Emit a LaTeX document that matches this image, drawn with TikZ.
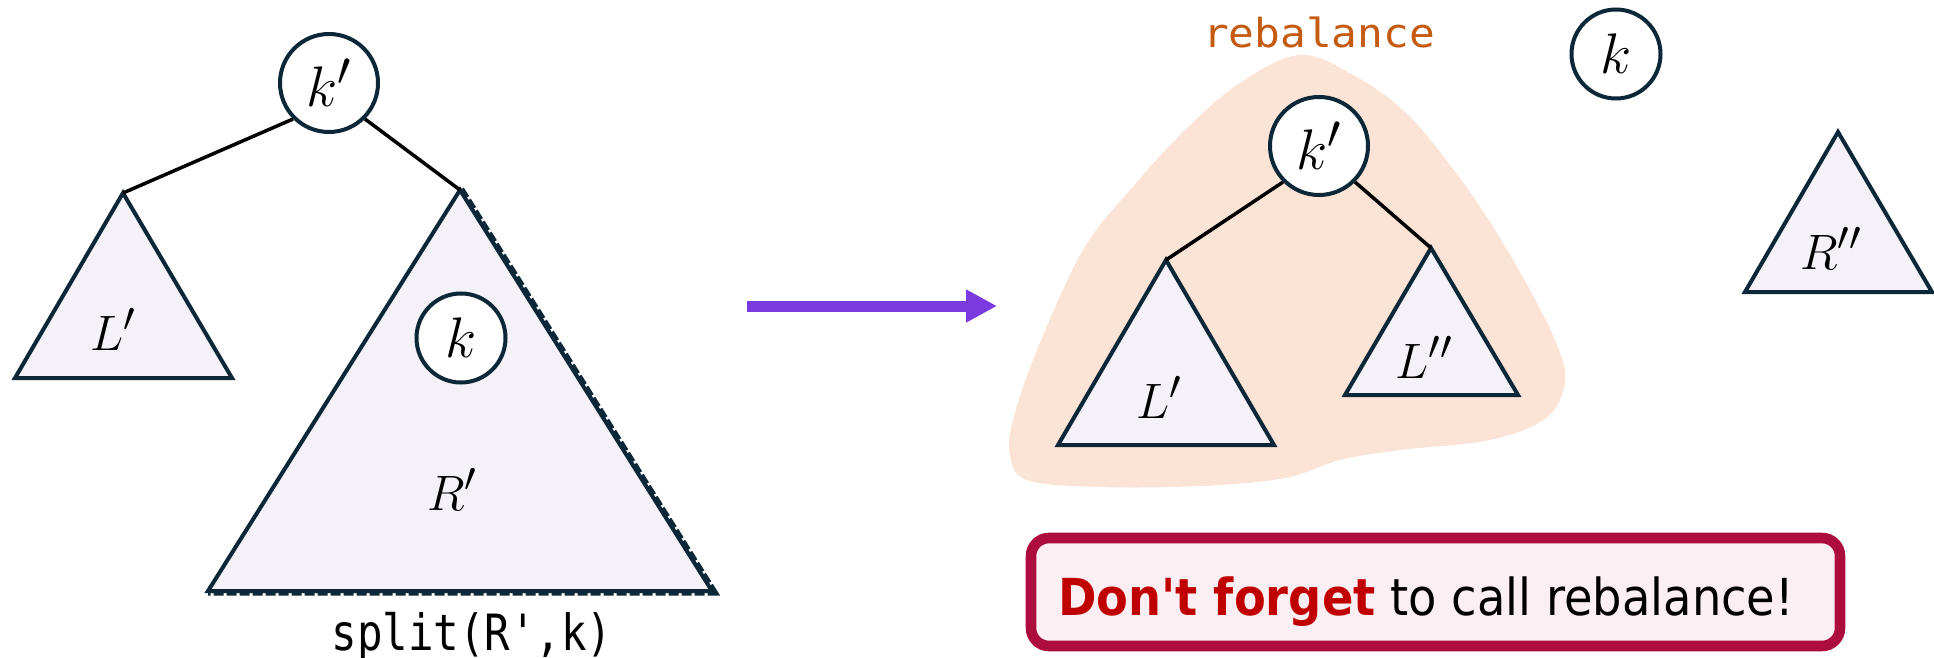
\documentclass[tikz,border=0pt]{standalone}
\usepackage{fontspec}
\usepackage{graphicx}
\usetikzlibrary{arrows.meta}
\newfontfamily\monofont{DejaVu Sans Mono}
\newfontfamily\msgfont{DejaVu Sans}
\newcommand\lblsz{\fontsize{24.88}{30}\selectfont}
\newcommand\keylab[1]{\scalebox{1.15}{$#1$}}
\definecolor{outl}{RGB}{12,40,56}
\definecolor{trifill}{RGB}{244,241,249}
\definecolor{blobfill}{RGB}{251,227,214}
\definecolor{arrowc}{RGB}{123,58,224}
\definecolor{rebc}{RGB}{197,90,17}
\definecolor{msgborder}{RGB}{172,12,62}
\definecolor{msgfill}{RGB}{251,239,243}
\definecolor{msgred}{RGB}{192,0,0}
\begin{document}
\begin{tikzpicture}[x=0.5pt,y=-0.5pt,
  keynode/.style={circle,draw=outl,line width=2pt,fill=white,minimum size=49pt,inner sep=0pt,font=\lblsz},
  bigkey/.style={keynode,minimum size=49pt},
  smallkey/.style={keynode,minimum size=44.5pt},
  tri/.style={draw=outl,fill=trifill,line width=2pt,line join=miter},
  treeedge/.style={draw=black,line width=1.75pt},
  lbl/.style={anchor=base,inner sep=0pt,font=\lblsz},
  dashmark/.style={draw=outl,line width=4.5pt,dash pattern=on 5pt off 1.5pt}]
\useasboundingbox (0,0) rectangle (1934,658);

% ---------- left picture ----------
\coordinate (Lt) at (123,193);
\coordinate (Rt) at (460,190);
\coordinate (Rbr) at (712,591);
\coordinate (Rbl) at (208,591);
\draw[dashmark] (Rt) -- (Rbr) -- (Rbl);
\draw[tri] (Lt) -- (232,378) -- (15,378) -- cycle;
\draw[tri] (Rt) -- (Rbr) -- (Rbl) -- cycle;
\node[bigkey] (kroot) at (329,83) {\keylab{k'}};
\node[smallkey] (kin) at (461,338) {\keylab{k}};
\node[lbl] (Llbl) at (113,350) {$L'$};
\node[lbl] (Rlbl) at (452,510) {$R'$};
\draw[treeedge] (kroot.225) -- (Lt);
\draw[treeedge] (kroot.-45) -- (Rt);
\node[anchor=base,inner sep=0pt] (splitlbl) at (472,650)
  {\resizebox{140.5pt}{\height}{\monofont\fontsize{25}{30}\selectfont split(R\textquotesingle,k)}};

% ---------- arrow ----------
\coordinate (a1) at (747,306);
\coordinate (a2) at (997,306);
\draw[arrowc,line width=5.5pt,-{Triangle[length=15.5pt,width=15.5pt]}] (a1) -- (a2);

% ---------- right picture ----------
\fill[blobfill] plot[smooth cycle,tension=0.6] coordinates {
 (1300,55) (1355,76) (1405,112) (1450,165) (1490,222) (1530,290) (1557,345)
 (1565,382) (1546,418) (1490,440) (1400,450) (1340,460) (1285,478) (1200,486)
 (1100,487) (1027,480) (1010,455) (1013,420) (1037,350) (1083,250) (1130,190)
 (1185,130) (1240,83)};
\node[anchor=base,inner sep=0pt,text=rebc] (reblbl) at (1319,48)
  {\resizebox{116pt}{\height}{\monofont\fontsize{20}{24}\selectfont rebalance}};
\coordinate (L2t) at (1166,260);
\coordinate (L3t) at (1431,248);
\draw[tri] (L2t) -- (1274,445) -- (1058,445) -- cycle;
\draw[tri] (L3t) -- (1518,395) -- (1345,395) -- cycle;
\node[bigkey] (kright) at (1319,146) {\keylab{k'}};
\node[lbl] (L2lbl) at (1159,418) {$L'$};
\node[lbl] (L3lbl) at (1424,378) {$L''$};
\draw[treeedge] (kright.225) -- (L2t);
\draw[treeedge] (kright.-45) -- (L3t);

\node[smallkey] (ktop) at (1616,54) {\keylab{k}};
\coordinate (R2t) at (1838,132);
\draw[tri] (R2t) -- (1932,292) -- (1745,292) -- cycle;
\node[lbl] (R2lbl) at (1831,269) {$R''$};

% ---------- message ----------
\node[draw=msgborder,fill=msgfill,line width=5.3pt,rounded corners=9pt,
      minimum width=404.5pt,minimum height=54pt,inner sep=0pt] (msgbox) at (1435.5,592) {};
\node[anchor=base,inner sep=0pt] (msgtext) at (1426,615)
  {\resizebox{368pt}{\height}{\msgfont\fontsize{25.5}{30}\selectfont\textcolor{msgred}{\bfseries Don\textquotesingle t forget} to call rebalance!}};
\end{tikzpicture}
\end{document}
